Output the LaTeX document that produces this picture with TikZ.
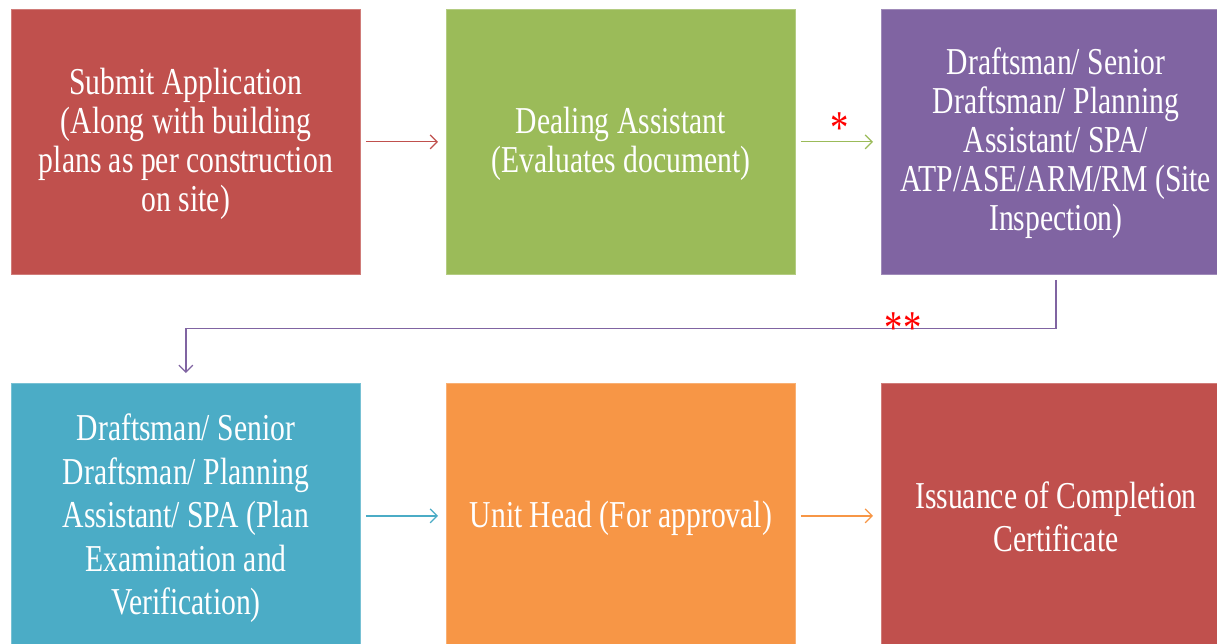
\documentclass[tikz,border=0pt]{standalone}
\usepackage{fontspec}
\setmainfont{Liberation Serif}[FakeStretch=0.78]
\usetikzlibrary{arrows.meta}
\definecolor{cred}{HTML}{C0504D}
\definecolor{cgreen}{HTML}{9BBB59}
\definecolor{cpurple}{HTML}{8064A2}
\definecolor{cblue}{HTML}{4BACC6}
\definecolor{corange}{HTML}{F79646}
\begin{document}
\begin{tikzpicture}[x=1pt,y=-1pt,
  box/.style={fill=#1, draw=#1!75!white, line width=0.8pt, minimum width=349pt,
    minimum height=265pt, inner sep=0pt, anchor=north west},
  lab/.style={text=white, align=center, inner sep=0pt,
    font=\fontsize{38}{#1}\selectfont},
  conn/.style={draw=#1, line width=1.2pt, -{Straight Barb[length=7pt,width=14pt]}},
  star/.style={text=red, font=\fontsize{47}{47}\selectfont, inner sep=0pt, anchor=base}]
\useasboundingbox (0,0) rectangle (1217,644);
\clip (0,0) rectangle (1217,644);
\fill[white] (0,0) rectangle (1217,644);
\node[box=cred] (b1) at (11,9) {};
\node[box=cgreen] (b2) at (446,9) {};
\node[box=cpurple] (b3) at (881,9) {};
\node[box=cblue] (b4) at (11,383) {};
\node[box=corange] (b5) at (446,383) {};
\node[box=cred] (b6) at (881,383) {};
\node[lab=39, yshift=-1.5pt] (t1) at (b1.center) {Submit Application\\(Along with building\\plans as per construction\\on site)};
\node[lab=39, yshift=-1.5pt] (t2) at (b2.center) {Dealing Assistant\\(Evaluates document)};
\node[lab=39, yshift=-1.5pt] (t3) at (b3.center) {Draftsman/ Senior\\Draftsman/ Planning\\Assistant/ SPA/\\ATP/ASE/ARM/RM (Site\\Inspection)};
\node[lab=43.5, yshift=-2.5pt] (t4) at (b4.center) {Draftsman/ Senior\\Draftsman/ Planning\\Assistant/ SPA (Plan\\Examination and\\Verification)};
\node[lab=43.5, yshift=-2.5pt] (t5) at (b5.center) {Unit Head (For approval)};
\node[lab=43.5, yshift=-1pt] (t6) at (b6.center) {Issuance of Completion\\Certificate};
\draw[conn=cred, shorten <=5pt, shorten >=8pt] (b1) -- (b2);
\draw[conn=cgreen, shorten <=5pt, shorten >=8pt] (b2) -- (b3);
\draw[conn=cpurple, shorten <=5pt, shorten >=10pt] (b3.south) -- ++(0,54) -| (b4.north);
\draw[conn=cblue, shorten <=5pt, shorten >=8pt] (b4) -- (b5);
\draw[conn=corange, shorten <=5pt, shorten >=8pt] (b5) -- (b6);
\node[star] (s1) at (840,143.5) {*};
\node[star] (s2) at (903,343.5) {**};
\end{tikzpicture}
\end{document}
